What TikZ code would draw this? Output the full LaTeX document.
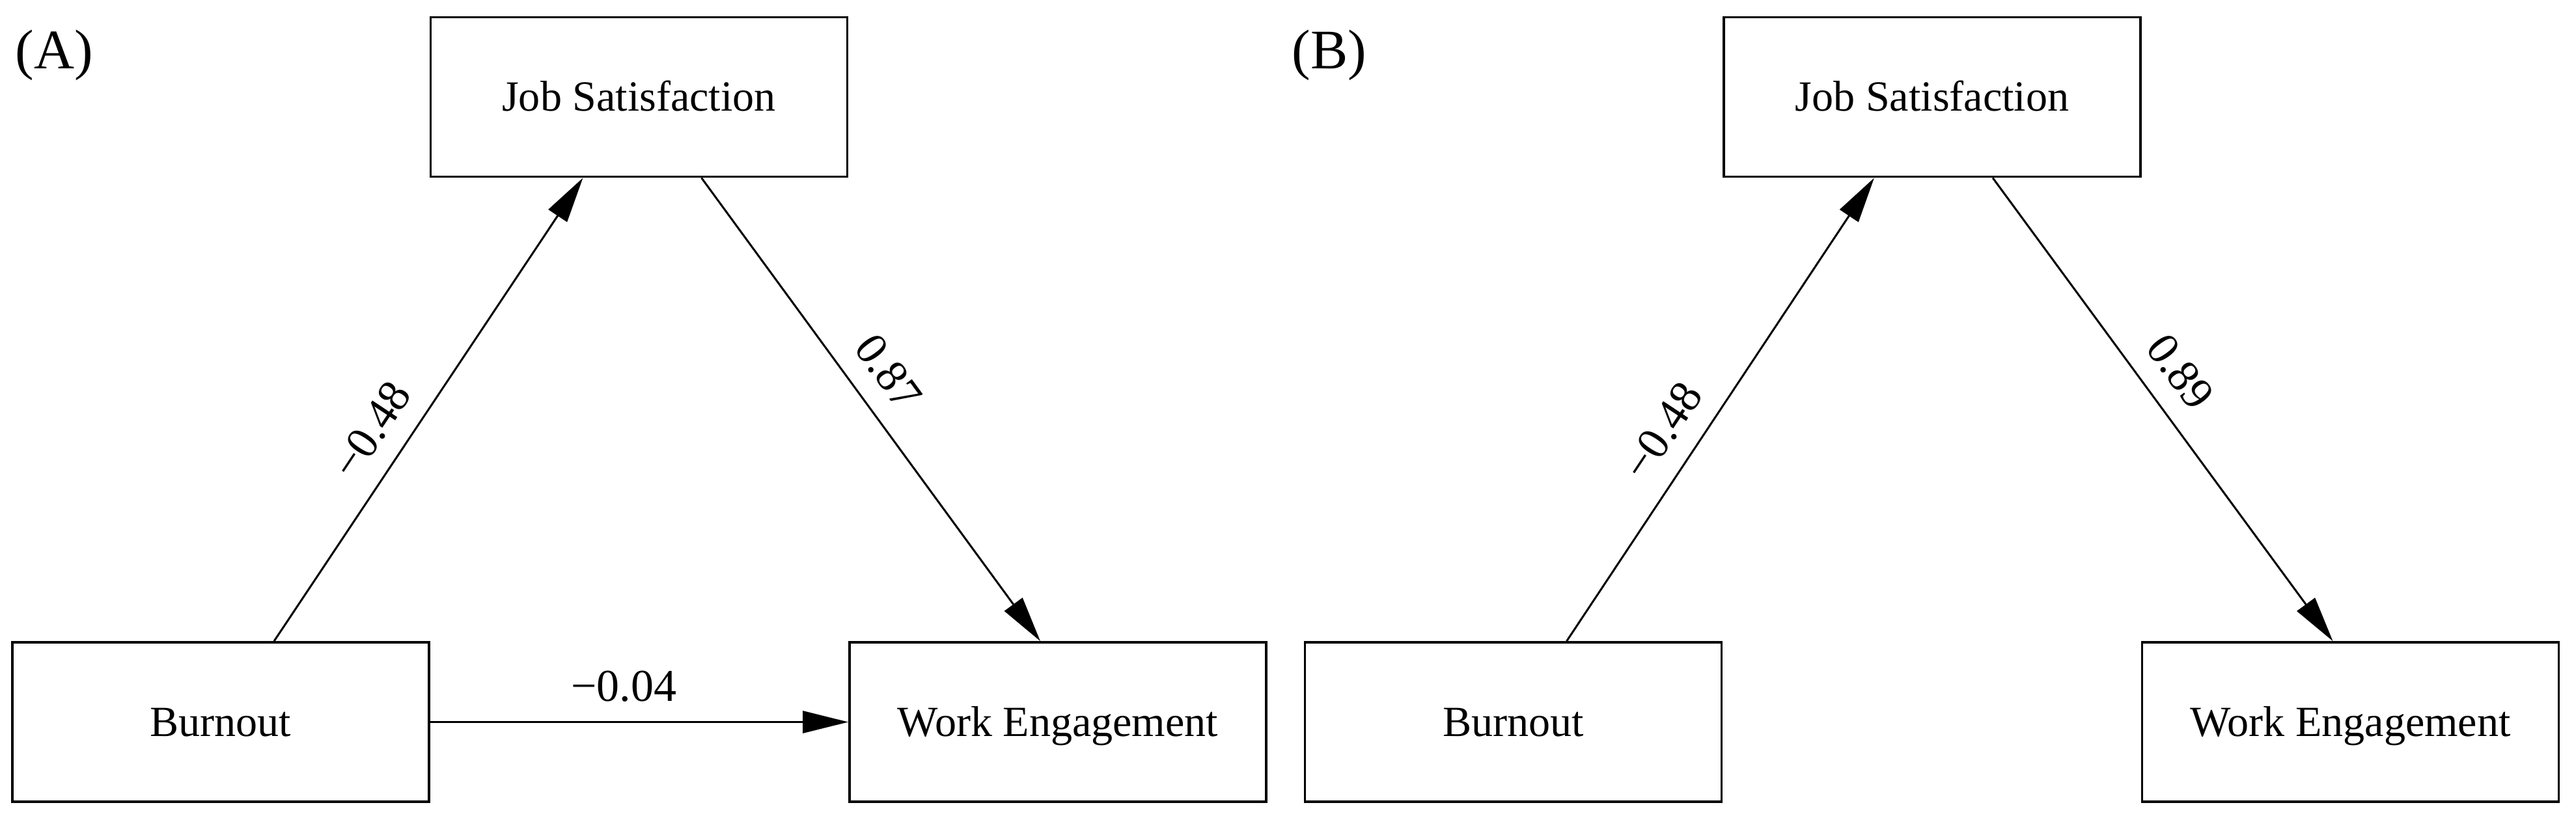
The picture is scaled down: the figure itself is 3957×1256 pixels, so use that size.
\documentclass[tikz,border=0pt]{standalone}
\usepackage{fontspec}
\setmainfont{Liberation Serif}
\usetikzlibrary{arrows.meta}
\begin{document}
\begin{tikzpicture}[x=0.01cm,y=-0.01cm,
  box/.style={draw, line width=1pt, minimum width=6.4cm, minimum height=2.45cm,
    inner sep=0pt, font=\fontsize{18.8}{22}\selectfont, text height=12.4pt, text depth=0pt},
  conn/.style={line width=0.85pt, -{Triangle[length=0.7cm, width=0.34cm]}},
  lab/.style={font=\fontsize{19.9}{24}\selectfont, inner sep=0pt},
  panel/.style={font=\fontsize{24.4}{28}\selectfont, inner sep=0pt, anchor=base west}
]
\useasboundingbox (0,0) rectangle (3957,1256);
\fill[white] (0,0) rectangle (3957,1256);

% Panel A
\node[panel] (pa) at (23,105) {(A)};
\node[box] (jA) at (981.5,149) {Job Satisfaction};
\node[box] (bA) at (339,1109.5) {Burnout};
\node[box] (wA) at (1625,1109.5) {Work Engagement};
\draw[conn] ([xshift=0.82cm]bA.north) -- node[lab, sloped, pos=0.412, anchor=base, yshift=0.33cm] {−0.48} ([xshift=-0.86cm]jA.south);
\draw[conn] ([xshift=0.96cm]jA.south) -- node[lab, sloped, pos=0.465, anchor=base, yshift=0.33cm] {0.87} ([xshift=-0.27cm]wA.north);
\draw[conn] (bA.east) -- node[lab, pos=0.463, anchor=base, yshift=0.32cm] {−0.04} (wA.west);

% Panel B
\node[panel] (pb) at (1984,105) {(B)};
\node[box] (jB) at (2968,149) {Job Satisfaction};
\node[box] (bB) at (2324.5,1109.5) {Burnout};
\node[box] (wB) at (3610.5,1109.5) {Work Engagement};
\draw[conn] ([xshift=0.82cm]bB.north) -- node[lab, sloped, pos=0.41, anchor=base, yshift=0.33cm] {−0.48} ([xshift=-0.89cm]jB.south);
\draw[conn] ([xshift=0.93cm]jB.south) -- node[lab, sloped, pos=0.465, anchor=base, yshift=0.33cm] {0.89} ([xshift=-0.27cm]wB.north);
\end{tikzpicture}
\end{document}
